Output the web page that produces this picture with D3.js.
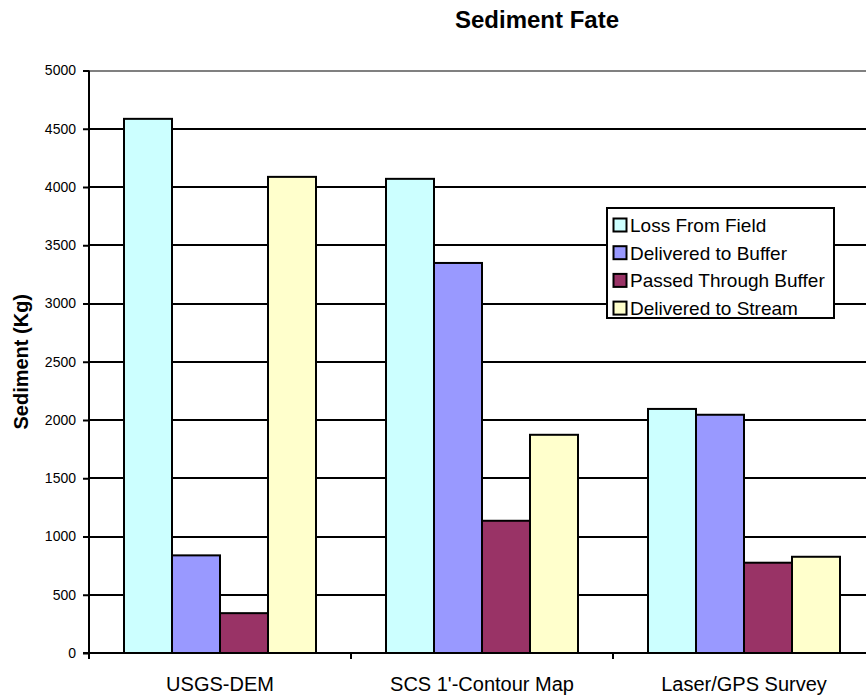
<!DOCTYPE html>
<html>
<head>
<meta charset="utf-8">
<script src="https://cdn.jsdelivr.net/npm/d3@7/dist/d3.min.js"></script>
<style>
  html, body { margin: 0; padding: 0; background: #fff; }
  svg { display: block; font-family: "Liberation Sans", Arial, sans-serif; }
</style>
</head>
<body>
<svg id="chart" width="866" height="698"></svg>
<script>
const categories = ["USGS-DEM", "SCS 1'-Contour Map", "Laser/GPS Survey"];
const seriesNames = ["Loss From Field", "Delivered to Buffer", "Passed Through Buffer", "Delivered to Stream"];
const lossFromField = [4585, 4070, 2095];
const deliveredToBuffer = [838, 3348, 2045];
const passedThroughBuffer = [342, 1135, 775];
const deliveredToStream = [4087, 1873, 826];
const yTicks = [0, 500, 1000, 1500, 2000, 2500, 3000, 3500, 4000, 4500, 5000];
const colors = ["#CCFFFF", "#9999FF", "#993366", "#FFFFCC"];

const seriesValues = [lossFromField, deliveredToBuffer, passedThroughBuffer, deliveredToStream];

const svg = d3.select("#chart");
const plotLeft = 89, plotRight = 875, plotTop = 70.5, plotBottom = 653;

const x = d3.scaleBand().domain(categories).range([plotLeft, plotRight]).paddingInner(0).paddingOuter(0);
const bw = x.bandwidth();
const x1 = d3.scaleBand().domain(seriesNames).range([bw * 0.1336, bw * 0.8664]).padding(0);
const y = d3.scaleLinear().domain([0, 5000]).range([plotBottom, plotTop]);

// gridlines
svg.append("g").selectAll("line")
  .data(yTicks.filter(t => t > 0))
  .join("line")
  .attr("x1", plotLeft).attr("x2", plotRight)
  .attr("y1", d => Math.round(y(d))).attr("y2", d => Math.round(y(d)))
  .attr("stroke", d => d === 5000 ? "#808080" : "#000")
  .attr("stroke-width", 2);

// bars
const rows = [];
categories.forEach((c, i) => {
  seriesNames.forEach((s, j) => rows.push({ c, s, j, v: seriesValues[j][i] }));
});
svg.append("g").selectAll("rect")
  .data(rows)
  .join("rect")
  .attr("x", d => x(d.c) + x1(d.s))
  .attr("y", d => y(d.v))
  .attr("width", x1.bandwidth())
  .attr("height", d => y(0) - y(d.v))
  .attr("fill", d => colors[d.j])
  .attr("stroke", "#000")
  .attr("stroke-width", 2);

// y axis
const yAxis = d3.axisLeft(y).tickValues(yTicks).tickSize(6).tickPadding(7).tickFormat(d3.format("d"));
const gy = svg.append("g").attr("transform", `translate(${plotLeft},0)`).call(yAxis);
gy.select(".domain").attr("stroke", "#000").attr("stroke-width", 2).attr("d", `M0,${plotTop}V${plotBottom}`);
gy.selectAll(".tick line").attr("stroke", "#000").attr("stroke-width", 2);
gy.selectAll(".tick text").attr("font-size", 14).attr("fill", "#000")
  .attr("font-family", "'Liberation Sans', Arial, sans-serif");

// x axis
const xAxis = d3.axisBottom(x).tickSize(0).tickPadding(24);
const gx = svg.append("g").attr("transform", `translate(0,${plotBottom})`).call(xAxis);
gx.select(".domain").attr("stroke", "#000").attr("stroke-width", 2).attr("d", `M${plotLeft - 6},0H${plotRight}`);
gx.selectAll(".tick text").attr("font-size", 20).attr("fill", "#000")
  .attr("font-family", "'Liberation Sans', Arial, sans-serif");
// category boundary ticks
const bounds = categories.map(c => x(c)).concat([x(categories[categories.length - 1]) + bw]);
gx.append("g").selectAll("line").data(bounds).join("line")
  .attr("x1", d => d).attr("x2", d => d).attr("y1", 0).attr("y2", 6)
  .attr("stroke", "#000").attr("stroke-width", 2);

// title
svg.append("text").attr("x", 537).attr("y", 28).attr("text-anchor", "middle")
  .attr("font-size", 24).attr("font-weight", "bold").text("Sediment Fate");

// y axis title
svg.append("text").attr("transform", `translate(28,${(plotTop + plotBottom) / 2}) rotate(-90)`)
  .attr("text-anchor", "middle").attr("font-size", 20).attr("font-weight", "bold")
  .text("Sediment (Kg)");

// legend
const lg = svg.append("g").attr("transform", "translate(607,208)");
lg.append("rect").attr("x", 0).attr("y", 0).attr("width", 227).attr("height", 110)
  .attr("fill", "#fff").attr("stroke", "#000").attr("stroke-width", 2);
const items = lg.selectAll("g.item").data(seriesNames).join("g").attr("class", "item")
  .attr("transform", (d, i) => `translate(0,${17 + i * 27.7})`);
items.append("rect").attr("x", 6.5).attr("y", -6.5).attr("width", 13).attr("height", 13)
  .attr("fill", (d, i) => colors[i]).attr("stroke", "#000").attr("stroke-width", 2);
items.append("text").attr("x", 23).attr("y", 7).attr("font-size", 19).text(d => d);
</script>
</body>
</html>
